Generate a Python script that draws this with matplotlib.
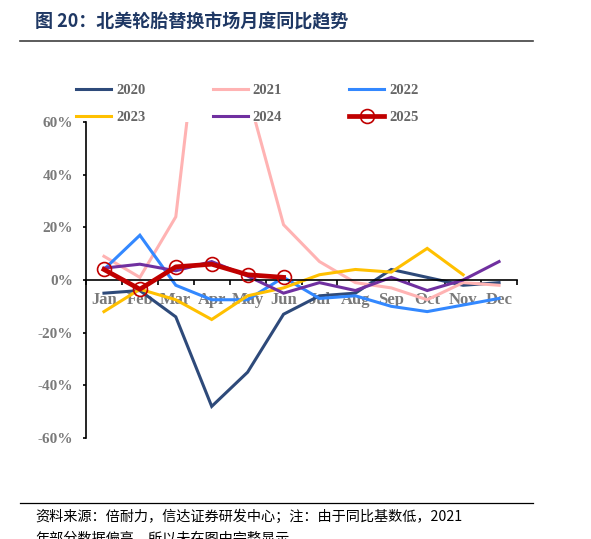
import numpy as np
import matplotlib.pyplot as plt
from matplotlib.lines import Line2D

plt.rcParams['axes.unicode_minus'] = False

# Monate und Jahresreihen (Veränderung ggü. Vorjahr in %)
months = ['Jan', 'Feb', 'Mar', 'Apr', 'May', 'Jun',
          'Jul', 'Aug', 'Sep', 'Oct', 'Nov', 'Dec']
y2020 = [-5, -4, -14, -48, -35, -13, -6, -5, 4, 1, -2, -1]
y2021 = [9, 1, 24, 141, 71, 21, 7, -1, -3, -7.5, -1, -2]
y2022 = [4, 17, -2, -7.5, -7.5, 1, -7, -6, -10, -12, -9.5, -7]
y2023 = [-12, -3.5, -7.5, -15, -6, -3, 2, 4, 3, 12, 2, np.nan]
y2024 = [4.5, 6, 3.5, 7, 1.5, -5, -1, -4, 1, -4, 0, 7]
y2025 = [4, -3.5, 5, 6, 2, 1]

series = [('2020', y2020, '#2E4A7A'),
          ('2021', y2021, '#FFB3B3'),
          ('2022', y2022, '#3388FF'),
          ('2023', y2023, '#FFC000'),
          ('2024', y2024, '#7030A0')]

yticks = [-60, -40, -20, 0, 20, 40, 60]
ytick_labels = ['-60%', '-40%', '-20%', '0%', '20%', '40%', '60%']

grau = '#7A7A7A'
serif = ['Liberation Serif', 'DejaVu Serif']
cjk = ['Noto Sans CJK SC', 'DejaVu Sans']

fig = plt.figure(figsize=(5.91, 5.39), dpi=100)
ax = fig.add_axes([86 / 591, 1 - 438 / 539, 431 / 591, 316 / 539])

x = np.arange(len(months))
handles = []
for name, werte, farbe in series:
    h, = ax.plot(x, werte, color=farbe, lw=2.2, label=name, solid_joinstyle='miter')
    handles.append(h)
h25, = ax.plot(x[:len(y2025)], y2025, color='#C00000', lw=3.4, marker='o',
               ms=10, mfc='none', mec='#C00000', mew=1.2, label='2025', zorder=5)
handles.append(h25)

ax.set_xlim(-0.5, 11.5)
ax.set_ylim(-60, 60)

# Achsen
ax.spines['top'].set_visible(False)
ax.spines['right'].set_visible(False)
ax.spines['bottom'].set_position(('data', 0))
ax.spines['bottom'].set_linewidth(1.2)
ax.spines['left'].set_linewidth(1.2)

ax.set_xticks(x)
ax.set_xticklabels(months)
ax.set_xticks(np.arange(-0.5, 12, 1), minor=True)
ax.tick_params(axis='x', which='major', length=0, pad=9)
ax.tick_params(axis='x', which='minor', length=3.5, width=1.2, direction='out')
ax.set_yticks(yticks)
ax.set_yticklabels(ytick_labels)
ax.tick_params(axis='y', length=2.5, width=1.2, pad=7)
for lbl in ax.get_xticklabels():
    lbl.set_family(serif)
    lbl.set_fontweight('bold')
    lbl.set_color(grau)
    lbl.set_fontsize(12)
for lbl in ax.get_yticklabels():
    lbl.set_family(serif)
    lbl.set_fontweight('bold')
    lbl.set_color(grau)
    lbl.set_fontsize(11)

# Legende (zeilenweise: 2020 2021 2022 / 2023 2024 2025)
reihenfolge = [0, 3, 1, 4, 2, 5]
leg = fig.legend(handles=[handles[i] for i in reihenfolge],
                 ncol=3, loc='upper left', bbox_to_anchor=(63 / 591, 1 - 71 / 539),
                 frameon=False, handlelength=2.4, handletextpad=0.35,
                 columnspacing=4.6, labelspacing=0.9,
                 prop={'family': serif, 'weight': 'bold', 'size': 10.5})
for t in leg.get_texts():
    t.set_color('#666666')

# Titel und Linien
fig.text(35 / 591, 1 - 22 / 539, '图 20：北美轮胎替换市场月度同比趋势', family=cjk,
         fontsize=13, fontweight='bold', color='#1F3864', va='center')
fig.add_artist(Line2D([20 / 591, 533 / 591], [1 - 41 / 539, 1 - 41 / 539],
                      color='#404040', lw=1.2))
fig.add_artist(Line2D([20 / 591, 533 / 591], [1 - 503 / 539, 1 - 503 / 539],
                      color='black', lw=0.9))
fig.text(35 / 591, 1 - 517 / 539,
         '资料来源：倍耐力，信达证券研发中心；注：由于同比基数低，2021',
         family=cjk, fontsize=10.2, color='black', va='center')
fig.text(35 / 591, 1 - 539 / 539,
         '年部分数据偏高，所以未在图中完整显示',
         family=cjk, fontsize=10.2, color='black', va='center')

fig.savefig('out.png', dpi=100)
